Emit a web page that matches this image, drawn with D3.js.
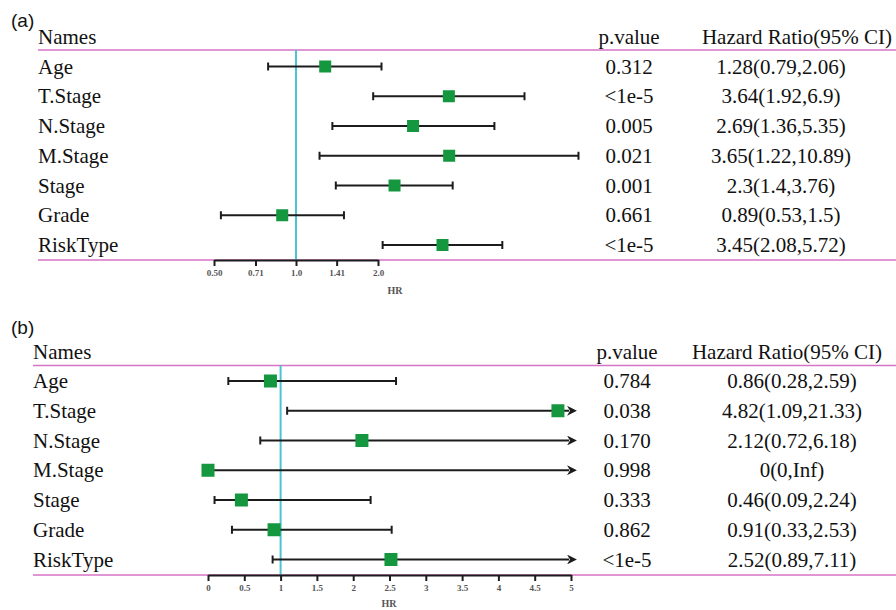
<!DOCTYPE html>
<html>
<head>
<meta charset="utf-8">
<script src="https://cdn.jsdelivr.net/npm/d3@7"></script>
<style>
  html, body { margin: 0; padding: 0; background: #fff; }
  svg { display: block; }
</style>
</head>
<body>
<svg id="chart" width="896" height="610"></svg>
<script>
// Variables shared by both Cox models
const names = ["Age", "T.Stage", "N.Stage", "M.Stage", "Stage", "Grade", "RiskType"];

// (a) univariate model
const hrA   = [1.28, 3.64, 2.69, 3.65, 2.3, 0.89, 3.45];
const lowA  = [0.79, 1.92, 1.36, 1.22, 1.4, 0.53, 2.08];
const highA = [2.06, 6.9, 5.35, 10.89, 3.76, 1.5, 5.72];
const pA    = ["0.312", "<1e-5", "0.005", "0.021", "0.001", "0.661", "<1e-5"];
const ticksA      = [0.5, 0.71, 1.0, 1.41, 2.0];
const tickLabelsA = ["0.50", "0.71", "1.0", "1.41", "2.0"];

// (b) multivariate model
const hrB   = [0.86, 4.82, 2.12, 0, 0.46, 0.91, 2.52];
const lowB  = [0.28, 1.09, 0.72, 0, 0.09, 0.33, 0.89];
const highB = [2.59, 21.33, 6.18, Infinity, 2.24, 2.53, 7.11];
const pB    = ["0.784", "0.038", "0.170", "0.998", "0.333", "0.862", "<1e-5"];
const ticksB      = [0, 0.5, 1, 1.5, 2, 2.5, 3, 3.5, 4, 4.5, 5];
const tickLabelsB = ["0", "0.5", "1", "1.5", "2", "2.5", "3", "3.5", "4", "4.5", "5"];

const PINK = "#d673c6", CYAN = "#4cc3d1", GREEN = "#14973f", INK = "#1c1c1c";
const SERIF = "'Liberation Serif', 'Times New Roman', Times, 'DejaVu Serif', serif";
const SANS = "'Liberation Sans', Arial, Helvetica, sans-serif";
const svg = d3.select("#chart");

const fmt = v => (v === Infinity ? "Inf" : String(v));

svg.append("defs").append("marker")
  .attr("id", "arrow")
  .attr("viewBox", "0 0 10 10")
  .attr("refX", 2).attr("refY", 5)
  .attr("markerWidth", 4.5).attr("markerHeight", 4.5)
  .attr("orient", "auto")
  .append("path").attr("d", "M0,0 L10,5 L0,10 L3,5 Z").attr("fill", INK);

function serifText(sel, size) {
  return sel.attr("font-family", SERIF).style("font-family", SERIF)
    .style("font-size", size + "px").attr("fill", "#111");
}

function drawPanel(o) {
  const g = svg.append("g");
  const rowY = d3.scalePoint().domain(names).range([o.firstRow, o.lastRow]);

  // panel tag
  g.append("text").attr("x", o.tagX).attr("y", o.tagY)
    .attr("font-family", SANS).style("font-family", SANS)
    .style("font-size", "19px").attr("fill", "#111").text(o.tag);

  // header
  serifText(g.append("text"), 21).attr("x", o.left).attr("y", o.headerY).text("Names");
  serifText(g.append("text"), 21).attr("x", o.pX).attr("y", o.headerY)
    .attr("text-anchor", "middle").text("p.value");
  serifText(g.append("text"), 21).attr("x", o.hrHeadX).attr("y", o.headerY)
    .attr("text-anchor", "middle").text("Hazard Ratio(95% CI)");

  // horizontal rules
  [o.topRule, o.bottomRule].forEach(y => {
    g.append("line").attr("x1", o.left).attr("x2", 896).attr("y1", y).attr("y2", y)
      .attr("stroke", PINK).attr("stroke-width", 1.6);
  });

  // reference line at HR = 1
  g.append("line")
    .attr("x1", o.x(1)).attr("x2", o.x(1))
    .attr("y1", o.topRule).attr("y2", o.bottomRule)
    .attr("stroke", CYAN).attr("stroke-width", 2);

  const rows = names.map((n, i) => ({
    name: n, hr: o.hr[i], low: o.low[i], high: o.high[i], p: o.p[i]
  }));

  const row = g.selectAll("g.row").data(rows).join("g")
    .attr("class", "row")
    .attr("transform", d => `translate(0,${rowY(d.name)})`);

  // text columns
  serifText(row.append("text"), 21).attr("x", o.left).attr("y", 7).text(d => d.name);
  serifText(row.append("text"), 21).attr("x", o.pX).attr("y", 7)
    .attr("text-anchor", "middle").text(d => d.p);
  serifText(row.append("text"), 21).attr("x", o.hrValX).attr("y", 7)
    .attr("text-anchor", "middle")
    .text(d => `${fmt(d.hr)}(${fmt(d.low)},${fmt(d.high)})`);

  // confidence intervals
  const [dMin, dMax] = o.clip;
  row.each(function (d) {
    const r = d3.select(this);
    const lo = Math.max(d.low, dMin), hi = Math.min(d.high, dMax);
    const overHi = d.high > dMax;
    const x1 = o.x(lo), x2 = o.x(hi);
    const seg = r.append("line").attr("x1", x1).attr("x2", overHi ? x2 - 2 : x2)
      .attr("y1", 0).attr("y2", 0).attr("stroke", INK).attr("stroke-width", 2.2);
    if (overHi) seg.attr("marker-end", "url(#arrow)");
    r.append("line").attr("x1", x1).attr("x2", x1).attr("y1", -4).attr("y2", 4)
      .attr("stroke", INK).attr("stroke-width", 2);
    if (!overHi) {
      r.append("line").attr("x1", x2).attr("x2", x2).attr("y1", -4).attr("y2", 4)
        .attr("stroke", INK).attr("stroke-width", 2);
    }
    r.append("rect")
      .attr("x", o.x(d.hr) - o.box / 2).attr("y", -o.box / 2)
      .attr("width", o.box).attr("height", o.box)
      .attr("fill", GREEN);
  });

  // HR axis
  const axis = d3.axisBottom(o.x).tickValues(o.ticks)
    .tickFormat((d, i) => o.tickLabels[i]).tickSize(6).tickSizeOuter(0).tickPadding(4);
  const ax = g.append("g").attr("transform", `translate(0,${o.bottomRule})`).call(axis);
  ax.attr("font-family", SERIF);
  ax.select(".domain").attr("stroke", INK).attr("stroke-width", 2);
  ax.selectAll(".tick line").attr("stroke", INK).attr("stroke-width", 2);
  ax.selectAll(".tick text")
    .style("font-family", SERIF)
    .style("font-size", "9px").style("font-weight", "bold").attr("fill", "#555");

  g.append("text").attr("x", o.hrLabelX).attr("y", o.hrLabelY).attr("text-anchor", "middle")
    .style("font-family", SERIF)
    .style("font-size", "10px").style("font-weight", "bold").attr("fill", "#555").text("HR");
}

drawPanel({
  tag: "(a)", tagX: 11, tagY: 27,
  left: 38, headerY: 44, topRule: 50, bottomRule: 260,
  firstRow: 66.5, lastRow: 245,
  pX: 629, hrHeadX: 797, hrValX: 781,
  x: d3.scaleLog().base(2).domain([0.5, 2]).range([214, 378]),
  clip: [0, Infinity],
  hr: hrA, low: lowA, high: highA, p: pA,
  ticks: ticksA, tickLabels: tickLabelsA,
  box: 12, hrLabelX: 395, hrLabelY: 294
});

drawPanel({
  tag: "(b)", tagX: 11, tagY: 334,
  left: 33, headerY: 359, topRule: 365.5, bottomRule: 575,
  firstRow: 381, lastRow: 559.5,
  pX: 627, hrHeadX: 787, hrValX: 792,
  x: d3.scaleLinear().domain([0, 5]).range([208, 571]),
  clip: [0, 5],
  hr: hrB, low: lowB, high: highB, p: pB,
  ticks: ticksB, tickLabels: tickLabelsB,
  box: 13, hrLabelX: 389, hrLabelY: 607
});
</script>
</body>
</html>
